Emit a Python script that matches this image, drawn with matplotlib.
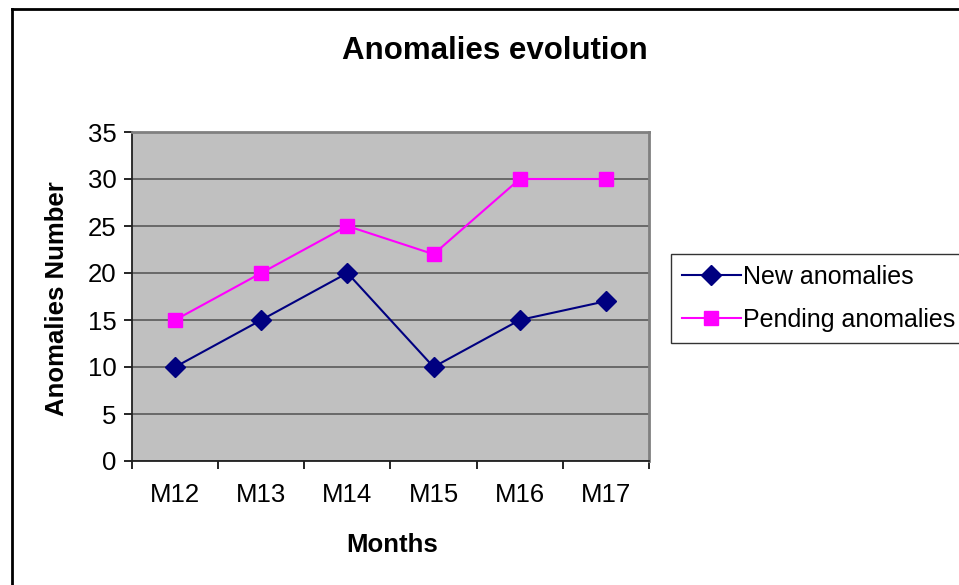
import matplotlib
matplotlib.use("Agg")
import matplotlib.pyplot as plt
from matplotlib.lines import Line2D

months = ["M12", "M13", "M14", "M15", "M16", "M17"]
new_anomalies = [10, 15, 20, 10, 15, 17]
pending_anomalies = [15, 20, 25, 22, 30, 30]
y_ticks = [0, 5, 10, 15, 20, 25, 30, 35]

plt.rcParams['font.family'] = ['Liberation Sans', 'DejaVu Sans']

W, H = 959, 585
fig = plt.figure(figsize=(W / 100, H / 100), dpi=100)
fig.patch.set_facecolor('white')

ax = fig.add_axes([132 / W, 1 - 461 / H, (649 - 132) / W, (461 - 132) / H])
ax.set_facecolor('#c0c0c0')

x = list(range(len(months)))
ax.plot(x, new_anomalies, color='#000080', linewidth=1.5, marker='D',
        markersize=10, label='New anomalies', zorder=3)
ax.plot(x, pending_anomalies, color='#ff00ff', linewidth=1.5, marker='s',
        markersize=9.5, label='Pending anomalies', zorder=3)

ax.set_xlim(-0.5, len(months) - 0.5)
ax.set_ylim(0, 35)
ax.set_yticks(y_ticks)
ax.set_xticks([i - 0.5 for i in range(len(months) + 1)])
ax.set_xticklabels([])
ax.set_xticks(x, minor=True)
ax.set_xticklabels(months, minor=True)

ax.tick_params(axis='x', which='major', direction='out', length=6, width=1.2, color='black')
ax.tick_params(axis='x', which='minor', length=0, pad=16, labelsize=18.5)
ax.tick_params(axis='y', direction='out', length=6, width=1.2, color='black', pad=5, labelsize=18.5)

ax.yaxis.grid(True, color='#686868', linewidth=1.4)
ax.set_axisbelow(True)

for s in ['top', 'right']:
    ax.spines[s].set_color('#808080')
    ax.spines[s].set_linewidth(2)
for s in ['left', 'bottom']:
    ax.spines[s].set_color('#202020')
    ax.spines[s].set_linewidth(1.3)

fig.text(495 / W, 1 - 51 / H, "Anomalies evolution", ha='center', va='center',
         fontsize=22.5, fontweight='bold')
fig.text(392 / W, 1 - 545 / H, "Months", ha='center', va='center',
         fontsize=18.5, fontweight='bold')
fig.text(57 / W, 1 - 299 / H, "Anomalies Number", ha='center', va='center',
         fontsize=18.5, fontweight='bold', rotation=90)

leg = fig.legend(loc='upper left', bbox_to_anchor=(671 / W, 1 - 254 / H),
                 fontsize=18, frameon=True, fancybox=False, edgecolor='black',
                 borderaxespad=0, handlelength=2.35, handletextpad=0.08,
                 borderpad=0.44, labelspacing=0.76)
leg.get_frame().set_linewidth(1.0)

# chart border
fig.add_artist(Line2D([12 / W, 12 / W], [0, 1 - 9 / H], color='black', linewidth=2))
fig.add_artist(Line2D([12 / W, 1], [1 - 9 / H, 1 - 9 / H], color='black', linewidth=2))

fig.savefig('out.png', dpi=100)
